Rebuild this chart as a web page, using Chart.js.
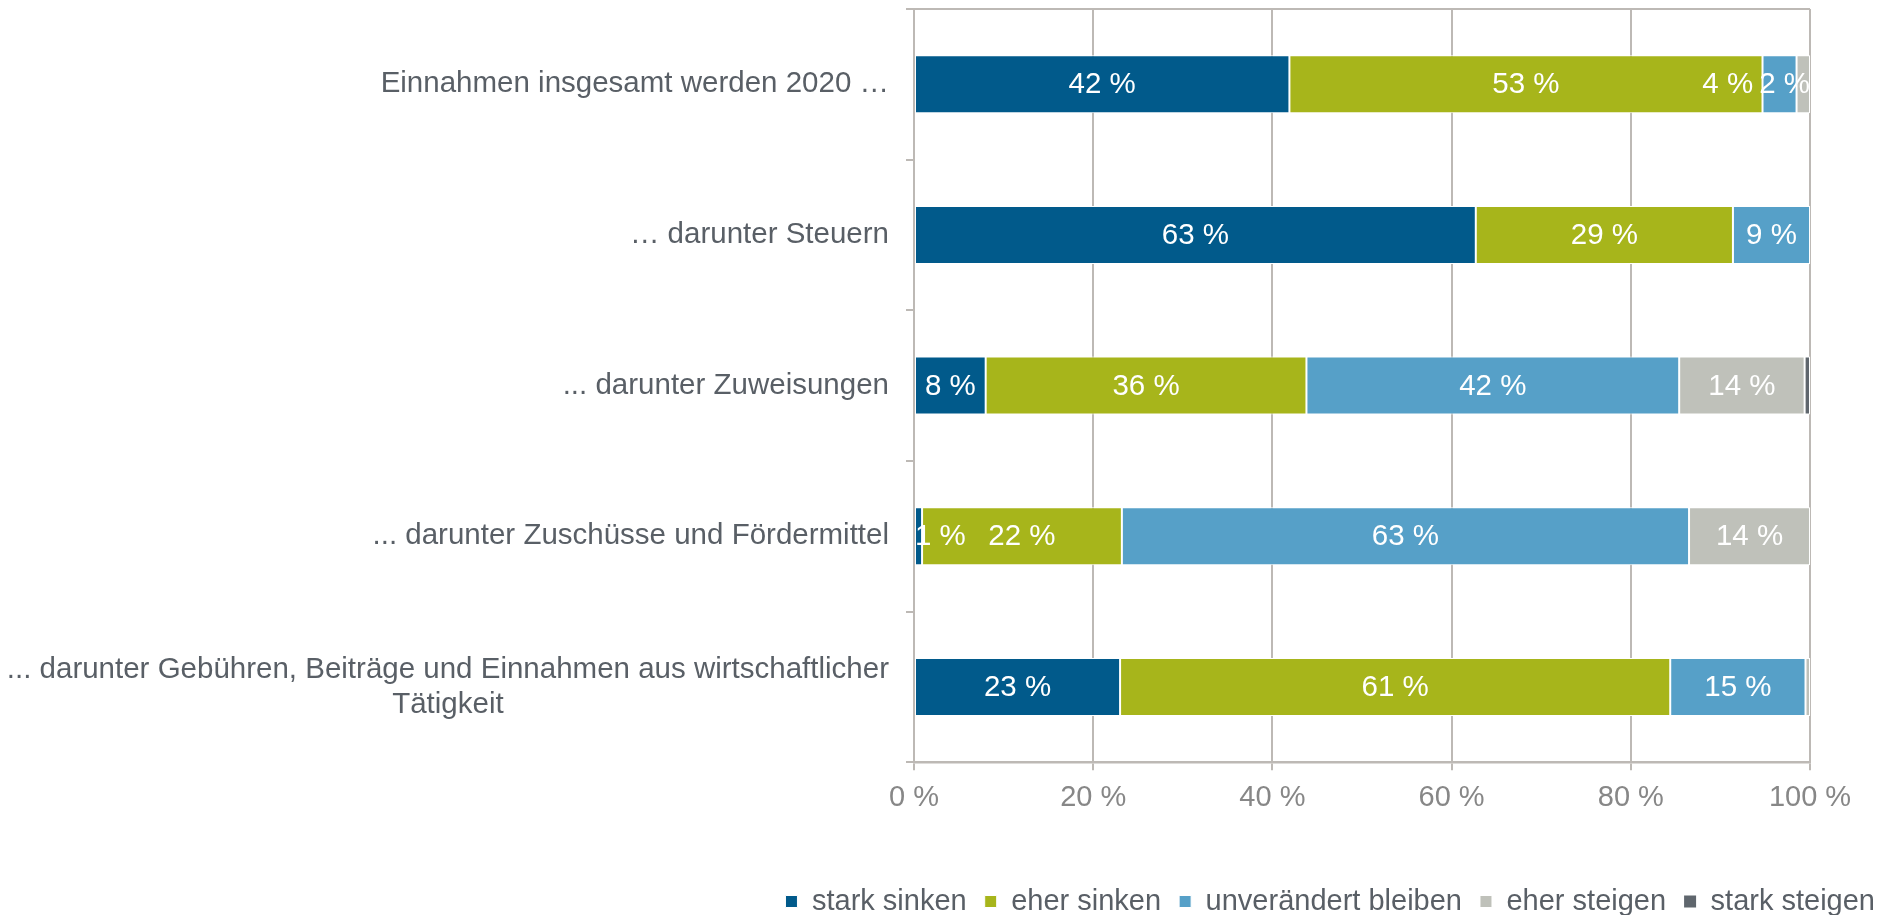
<!doctype html>
<html lang="de">
    <head>
        <meta charset="UTF-8" />
        <title>Einnahmen 2020</title>
        <style>
            html, body { margin: 0; padding: 0; background: #fff; }
            #wrap { width: 1889px; height: 915px; position: relative; }
        </style>
    </head>
    <body>
        <div id="wrap"><canvas id="barChart"></canvas></div>

        <script src="https://cdn.jsdelivr.net/npm/chart.js@4/dist/chart.umd.min.js"></script>
        <script>
            // categories (top to bottom)
            const categories = [
                "Einnahmen insgesamt werden 2020 …",
                "… darunter Steuern",
                "... darunter Zuweisungen",
                "... darunter Zuschüsse und Fördermittel",
                ["... darunter Gebühren, Beiträge und Einnahmen aus wirtschaftlicher", "Tätigkeit"],
            ];

            const seriesNames = ["stark sinken", "eher sinken", "unverändert bleiben", "eher steigen", "stark steigen"];
            const seriesColors = ["#015a8b", "#a7b51b", "#56a0c8", "#bfc1ba", "#5f666d"];

            // shares in percent
            const starkSinken = [41.9, 62.7, 8.0, 0.9, 23.0];
            const eherSinken = [52.8, 28.7, 35.8, 22.3, 61.4];
            const unveraendert = [3.8, 8.6, 41.6, 63.3, 15.1];
            const eherSteigen = [1.5, 0, 14.0, 13.5, 0.5];
            const starkSteigen = [0, 0, 0.6, 0, 0];

            const xTicks = [0, 20, 40, 60, 80, 100];

            const FONT = "'Liberation Sans', Arial, sans-serif";
            const gridColor = "#bdb9b5";
            const textColor = "#595f66";

            const seriesValues = [starkSinken, eherSinken, unveraendert, eherSteigen, starkSteigen];

            // white percent labels inside the segments, kept inside the plot
            const segmentLabels = {
                id: "segmentLabels",
                afterDatasetsDraw(chart) {
                    const ctx = chart.ctx;
                    const area = chart.chartArea;
                    ctx.save();
                    ctx.font = "29.5px " + FONT;
                    ctx.fillStyle = "#ffffff";
                    ctx.textBaseline = "middle";
                    ctx.textAlign = "left";
                    for (let i = 0; i < categories.length; i++) {
                        const row = [];
                        chart.data.datasets.forEach((ds, d) => {
                            const v = ds.data[i];
                            if (!v || v < 0.75) return;
                            const el = chart.getDatasetMeta(d).data[i];
                            const text = Math.round(v) + " %";
                            const w = ctx.measureText(text).width;
                            let left = (el.x + el.base) / 2 - w / 2;
                            left = Math.max(left, area.left + 1);
                            if (left + w > area.right) left = area.right - w;
                            row.push({ text, w, left, y: el.y });
                        });
                        for (let j = row.length - 2; j >= 0; j--) {
                            const limit = row[j + 1].left - 6;
                            if (row[j].left + row[j].w > limit) row[j].left = limit - row[j].w;
                        }
                        row.forEach((l) => ctx.fillText(l.text, l.left, l.y + 1));
                    }
                    ctx.restore();
                },
            };

            // category labels: right aligned, wrapped label centred on itself
            const categoryLabels = {
                id: "categoryLabels",
                afterDraw(chart) {
                    const ctx = chart.ctx;
                    const y = chart.scales.y;
                    const area = chart.chartArea;
                    ctx.save();
                    ctx.font = "29.5px " + FONT;
                    ctx.fillStyle = textColor;
                    ctx.textBaseline = "middle";
                    const right = area.left - 25;
                    categories.forEach((label, i) => {
                        const cy = y.getPixelForValue(i);
                        if (Array.isArray(label)) {
                            const maxW = Math.max(...label.map((t) => ctx.measureText(t).width));
                            ctx.textAlign = "center";
                            label.forEach((t, k) => {
                                ctx.fillText(t, right - maxW / 2, cy + (k - (label.length - 1) / 2) * 35);
                            });
                        } else {
                            ctx.textAlign = "right";
                            ctx.fillText(label, right, cy);
                        }
                    });
                    // thin line along the top of the plot
                    ctx.strokeStyle = gridColor;
                    ctx.lineWidth = 2;
                    ctx.beginPath();
                    ctx.moveTo(area.left - 8, area.top);
                    ctx.lineTo(area.right, area.top);
                    ctx.stroke();
                    ctx.restore();
                },
            };

            const datasets = seriesNames.map((name, d) => ({
                label: name,
                data: seriesValues[d],
                backgroundColor: seriesColors[d],
                borderColor: "#ffffff",
                borderWidth: (c) => (c.raw > 0 ? 1 : 0),
                borderSkipped: false,
                categoryPercentage: 1,
                barPercentage: 0.385,
            }));

            new Chart(document.getElementById("barChart"), {
                type: "bar",
                data: { labels: categories, datasets },
                plugins: [segmentLabels, categoryLabels],
                options: {
                    indexAxis: "y",
                    responsive: true,
                    maintainAspectRatio: false,
                    animation: false,
                    layout: { padding: { top: 9, left: 12, right: -4, bottom: -11 } },
                    scales: {
                        x: {
                            stacked: true,
                            min: 0,
                            max: 100,
                            afterBuildTicks: (s) => {
                                s.ticks = xTicks.map((v) => ({ value: v }));
                            },
                            afterFit: (s) => {
                                s.height += 44;
                            },
                            ticks: {
                                color: "#878787",
                                font: { family: FONT, size: 29 },
                                padding: 10,
                                callback: (v) => v + " %",
                            },
                            grid: { color: gridColor, lineWidth: 2, tickLength: 8 },
                            border: { color: gridColor, width: 2.5 },
                        },
                        y: {
                            stacked: true,
                            afterFit: (s) => {
                                s.width = 902;
                                s.paddingTop = 0;
                                s.paddingBottom = 0;
                            },
                            ticks: {
                                color: "rgba(0,0,0,0)",
                                font: { family: FONT, size: 29 },
                                padding: 17,
                            },
                            grid: {
                                offset: true,
                                drawOnChartArea: false,
                                color: gridColor,
                                lineWidth: 2,
                                tickLength: 8,
                            },
                            border: { color: gridColor, width: 2 },
                        },
                        yr: {
                            type: "linear",
                            position: "right",
                            display: true,
                            grid: { display: false },
                            ticks: { display: false },
                            border: { display: false },
                            afterFit: (s) => {
                                s.width = 83;
                                s.paddingTop = 0;
                                s.paddingBottom = 0;
                            },
                        },
                    },
                    plugins: {
                        legend: {
                            position: "bottom",
                            align: "end",
                            labels: {
                                boxWidth: 12,
                                boxHeight: 12,
                                padding: 18,
                                color: textColor,
                                font: { family: FONT, size: 29 },
                            },
                        },
                        tooltip: { enabled: false },
                    },
                },
            });
        </script>
    </body>
</html>
